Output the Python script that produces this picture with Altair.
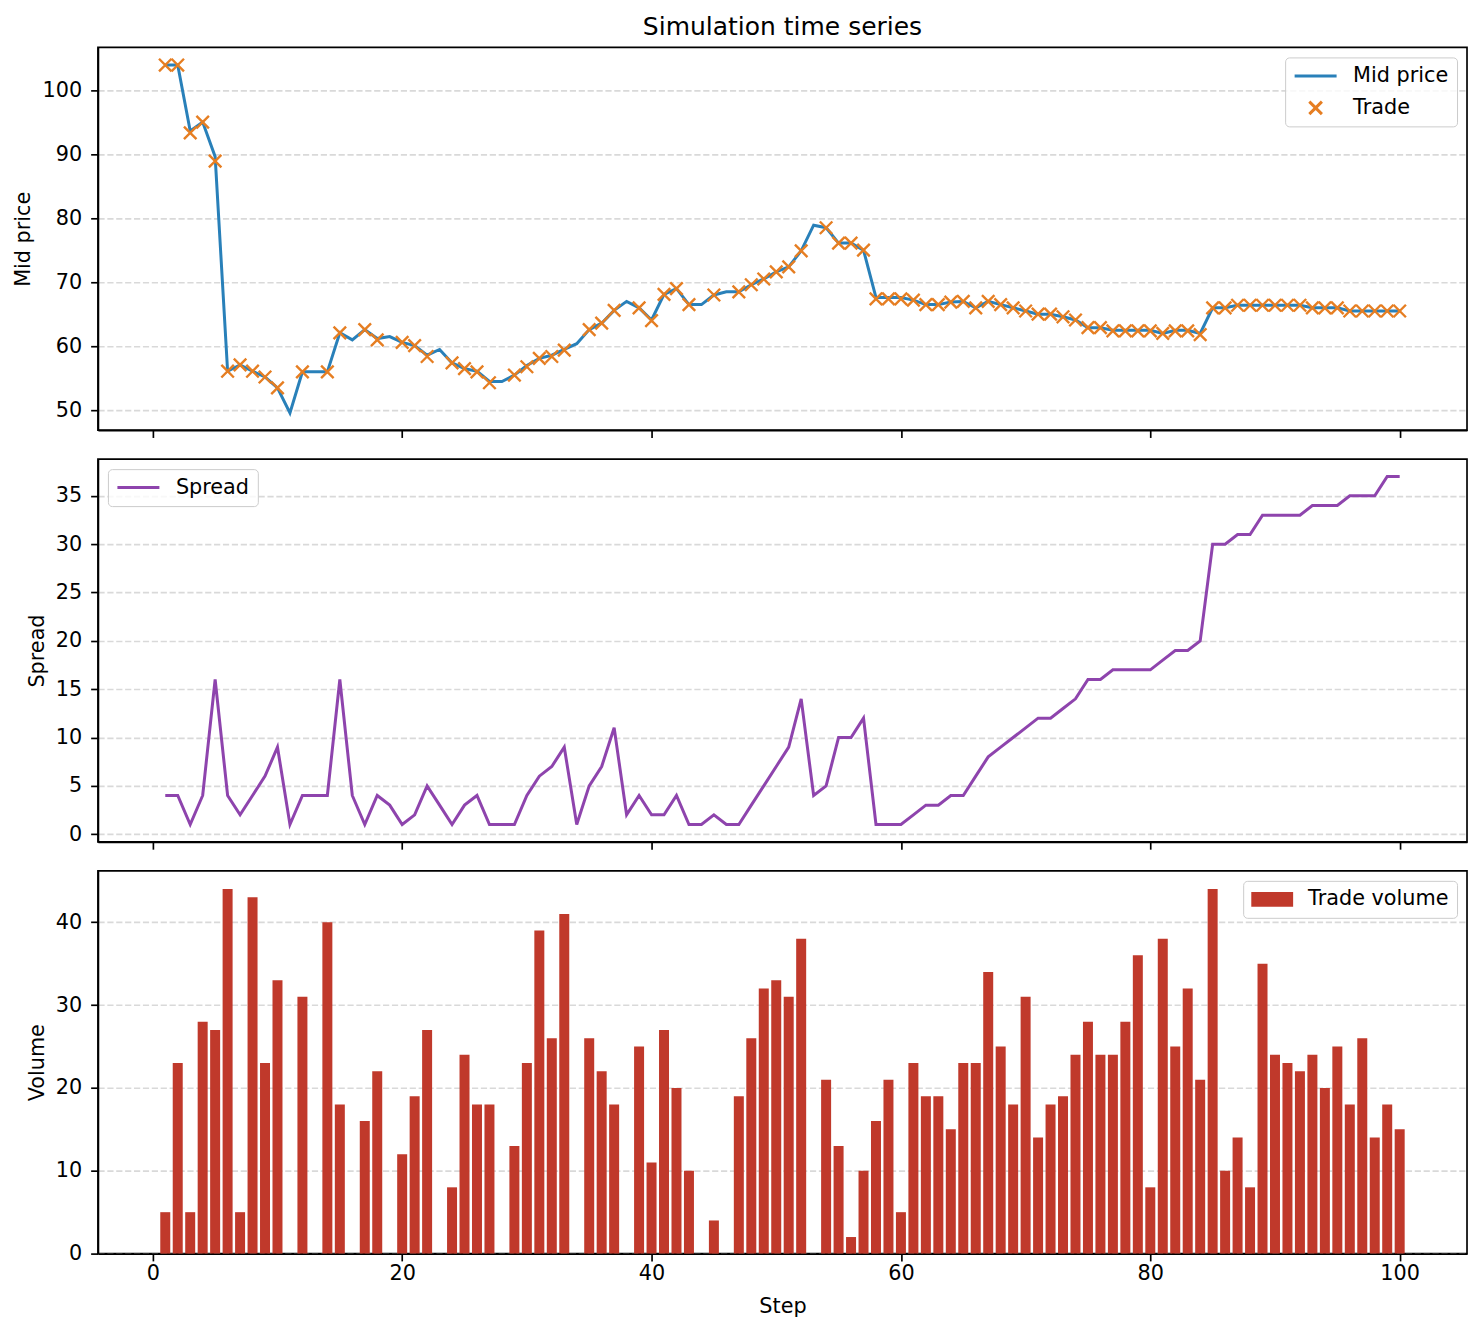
import altair as alt
import pandas as pd

steps = list(range(1, 101))

mid_price = [
    103.9, 103.9, 93.6, 95.0, 89.6, 56.1, 57.1, 56.1, 55.2, 53.5,
    49.6, 56.0, 56.0, 56.0, 62.1, 61.0, 62.6, 61.2, 61.5, 60.6,
    60.1, 58.6, 59.5, 57.4, 56.5, 56.1, 54.5, 54.5, 55.5, 57.0,
    58.1, 58.6, 59.5, 60.4, 62.6, 63.6, 65.6, 67.0, 66.0, 64.1,
    68.1, 69.0, 66.5, 66.5, 68.0, 68.5, 68.5, 69.6, 70.5, 71.6,
    72.4, 74.9, 78.9, 78.5, 76.1, 76.1, 75.0, 67.6, 67.6, 67.6,
    67.2, 66.5, 66.5, 66.9, 67.0, 66.0, 67.0, 66.5, 66.0, 65.5,
    65.0, 65.0, 64.6, 64.1, 62.9, 62.9, 62.5, 62.5, 62.5, 62.5,
    62.0, 62.5, 62.5, 62.0, 66.0, 66.0, 66.4, 66.4, 66.4, 66.4,
    66.4, 66.4, 66.0, 66.0, 66.0, 65.5, 65.5, 65.5, 65.5, 65.5,
]

trade_price = [
    103.9, 103.9, 93.3, 95.0, 88.9, 56.1, 57.1, 56.1, 55.2, 53.5,
    49.6, 56.0, 56.0, 56.0, 62.1, 61.0, 62.6, 61.0, 61.5, 60.6,
    60.1, 58.4, 59.5, 57.4, 56.5, 56.0, 54.3, 54.5, 55.5, 56.8,
    58.1, 58.4, 59.4, 60.4, 62.6, 63.6, 65.6, 67.0, 66.0, 64.0,
    68.1, 69.0, 66.5, 66.5, 68.0, 68.5, 68.5, 69.6, 70.5, 71.6,
    72.4, 74.9, 78.9, 78.5, 76.1, 76.1, 75.0, 67.4, 67.4, 67.4,
    67.2, 66.5, 66.5, 66.9, 67.0, 66.0, 67.0, 66.5, 66.0, 65.5,
    65.0, 65.0, 64.6, 64.1, 62.9, 62.9, 62.4, 62.4, 62.4, 62.4,
    62.0, 62.4, 62.4, 61.8, 66.0, 66.0, 66.4, 66.4, 66.4, 66.4,
    66.4, 66.4, 66.0, 66.0, 66.0, 65.5, 65.5, 65.5, 65.5, 65.5,
]

spread = [
    4, 4, 1, 4, 16, 4, 2, 4, 6, 9,
    1, 4, 4, 4, 16, 4, 1, 4, 3, 1,
    2, 5, 3, 1, 3, 4, 1, 1, 1, 4,
    6, 7, 9, 1, 5, 7, 11, 2, 4, 2,
    2, 4, 1, 1, 2, 1, 1, 3, 5, 7,
    9, 14, 4, 5, 10, 10, 12, 1, 1, 1,
    2, 3, 3, 4, 4, 6, 8, 9, 10, 11,
    12, 12, 13, 14, 16, 16, 17, 17, 17, 17,
    18, 19, 19, 20, 30, 30, 31, 31, 33, 33,
    33, 33, 34, 34, 34, 35, 35, 35, 37, 37,
]

volume = [
    5, 23, 5, 28, 27, 44, 5, 43, 23, 33,
    0, 31, 0, 40, 18, 0, 16, 22, 0, 12,
    19, 27, 0, 8, 24, 18, 18, 0, 13, 23,
    39, 26, 41, 0, 26, 22, 18, 0, 25, 11,
    27, 20, 10, 0, 4, 0, 19, 26, 32, 33,
    31, 38, 0, 21, 13, 2, 10, 16, 21, 5,
    23, 19, 19, 15, 23, 23, 34, 25, 18, 31,
    14, 18, 19, 24, 28, 24, 24, 28, 36, 8,
    38, 25, 32, 21, 44, 10, 14, 8, 35, 24,
    23, 22, 24, 20, 25, 18, 26, 14, 18, 15,
]

x_ticks = [0, 20, 40, 60, 80, 100]
price_ticks = [50, 60, 70, 80, 90, 100]
spread_ticks = [0, 5, 10, 15, 20, 25, 30, 35]
volume_ticks = [0, 10, 20, 30, 40]

FONT = "DejaVu Sans"
FS = 20.8
W, H = 1370, 383

price_df = pd.DataFrame({"step": steps, "value": mid_price, "series": "Mid price"})
trade_df = pd.DataFrame({"step": steps, "value": trade_price, "volume": volume, "series": "Trade"})
trade_df = trade_df[trade_df["volume"] > 0]
spread_df = pd.DataFrame({"step": steps, "value": spread, "series": "Spread"})
vol_df = pd.DataFrame({"step": steps, "value": volume, "series": "Trade volume"})

xscale = alt.Scale(domain=[-4.4, 105.4], nice=False, zero=False, padding=0)


def x_enc(show_labels, title):
    if title:
        ax = alt.Axis(values=x_ticks, labels=show_labels, grid=False, labelFlush=False,
                      labelPadding=3, titlePadding=13, title=title)
    else:
        ax = alt.Axis(values=x_ticks, labels=show_labels, grid=False, labelFlush=False,
                      labelPadding=3, title=None)
    return alt.X("step:Q", scale=xscale, axis=ax)


legend_common = dict(
    title=None,
    offset=10,
    padding=8,
    fillColor="rgba(255,255,255,0.8)",
    strokeColor="#cccccc",
    cornerRadius=4,
    labelFont=FONT,
    labelFontSize=FS,
    labelColor="black",
    labelOffset=15,
    rowPadding=10,
    symbolSize=1764,
    clipHeight=21,
)

LINE_PATH = "M-1,0L1,0"
X_PATH = "M-0.3,-0.3L0.3,0.3M-0.3,0.3L0.3,-0.3"
RECT_PATH = "M-1,-0.35L1,-0.35L1,0.35L-1,0.35Z"

# ---- top panel
top_domain = ["Mid price", "Trade"]
top_color = alt.Color(
    "series:N",
    scale=alt.Scale(domain=top_domain, range=["#2980b9", "#e67e22"]),
    legend=alt.Legend(orient="top-right", symbolStrokeWidth=3, **legend_common),
)
top_shape = alt.Shape(
    "series:N",
    scale=alt.Scale(domain=top_domain, range=[LINE_PATH, X_PATH]),
    legend=alt.Legend(orient="top-right", symbolStrokeWidth=3, **legend_common),
)
y_top = alt.Y(
    "value:Q",
    scale=alt.Scale(domain=[46.9, 106.65], nice=False, zero=False),
    axis=alt.Axis(values=price_ticks, title="Mid price"),
)

line_top = alt.Chart(price_df).mark_line(strokeWidth=3).encode(
    x=x_enc(False, None), y=y_top, color=top_color
)
pts_top = alt.Chart(trade_df).mark_point(
    filled=False, size=1740, strokeWidth=2.4, opacity=1
).encode(x=x_enc(False, None), y=y_top, color=top_color, shape=top_shape)

top = alt.layer(line_top, pts_top).properties(
    width=W,
    height=H,
    title=alt.TitleParams(
        "Simulation time series",
        fontSize=25,
        fontWeight="normal",
        font=FONT,
        color="black",
        anchor="middle",
        frame="group",
        baseline="bottom",
        offset=-18,
    ),
)

# ---- middle panel
mid = alt.Chart(spread_df).mark_line(strokeWidth=3).encode(
    x=x_enc(False, None),
    y=alt.Y(
        "value:Q",
        scale=alt.Scale(domain=[-0.8, 38.8], nice=False, zero=False),
        axis=alt.Axis(values=spread_ticks, title="Spread"),
    ),
    color=alt.Color(
        "series:N",
        scale=alt.Scale(domain=["Spread"], range=["#8e44ad"]),
        legend=alt.Legend(orient="top-left", symbolType=LINE_PATH, symbolStrokeWidth=3, **legend_common),
    ),
).properties(width=W, height=H)

# ---- bottom panel
bot = alt.Chart(vol_df).mark_bar(size=10).encode(
    x=x_enc(True, "Step"),
    y=alt.Y(
        "value:Q",
        scale=alt.Scale(domain=[0, 46.2], nice=False, zero=False),
        axis=alt.Axis(values=volume_ticks, title="Volume"),
    ),
    color=alt.Color(
        "series:N",
        scale=alt.Scale(domain=["Trade volume"], range=["#c0392b"]),
        legend=alt.Legend(
            orient="top-right",
            symbolType=RECT_PATH,
            symbolStrokeWidth=0,
            **legend_common,
        ),
    ),
).properties(width=W, height=H)

chart = (
    alt.vconcat(top, mid, bot, spacing=19)
    .resolve_scale(color="independent", shape="independent")
    .resolve_legend(color="independent", shape="independent")
    .properties(padding={"left": 12, "top": 14, "right": 16, "bottom": 5})
    .configure(font=FONT)
    .configure_axis(
        labelFont=FONT,
        labelFontSize=FS,
        labelColor="black",
        titleFont=FONT,
        titleFontSize=FS,
        titleFontWeight="normal",
        titleColor="black",
        tickColor="black",
        tickSize=7.3,
        tickWidth=1.67,
        labelPadding=9,
        titlePadding=8,
        domain=True,
        domainColor="black",
        domainWidth=1.67,
        gridColor="#d9d9d9",
        gridDash=[6.2, 2.7],
        gridWidth=1.67,
    )
    .configure_view(stroke="black", strokeWidth=1.67)
)

chart.save("out.html", embed_options={"renderer": "svg", "actions": False})
